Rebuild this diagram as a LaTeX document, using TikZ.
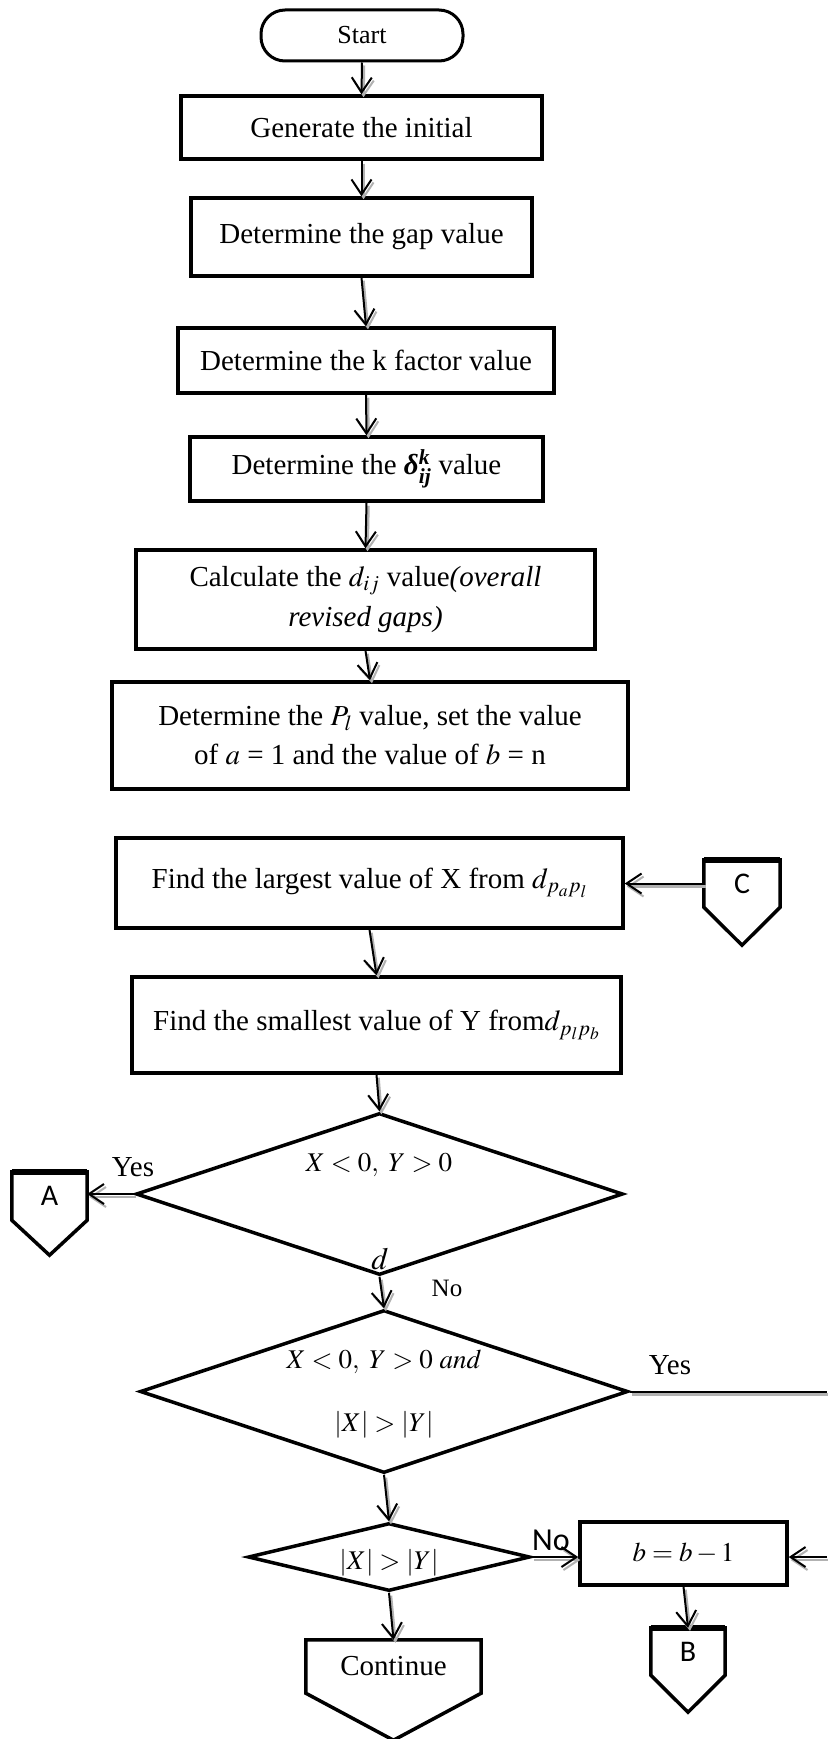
\documentclass[tikz,border=0pt]{standalone}
\usepackage{amsmath,amssymb}
\usepackage{mathptmx}
\usepackage{fontspec}
\setmainfont{Liberation Serif}
\newfontfamily\sansf{Carlito}
\usetikzlibrary{arrows.meta,shapes.geometric,calc}
\newcommand{\bis}[1]{\text{\bfseries\itshape #1}}
\begin{document}
\begin{tikzpicture}[x=1pt,y=-1pt,
  box/.style={draw,line width=3.5pt,inner sep=0pt,align=center,font=\fontsize{29}{40}\selectfont},
  startbox/.style={draw,line width=3pt,rounded corners=24pt,inner sep=0pt,font=\fontsize{26}{30}\selectfont},
  dia/.style={draw,diamond,line width=3.5pt,inner sep=0pt},
  conn/.style={draw=none,inner sep=0pt,font=\sansf\fontsize{30}{32}\selectfont},
  pent/.style={line width=3.5pt,line join=miter},
  lbl/.style={inner sep=0pt,font=\fontsize{29}{32}\selectfont},
  mth/.style={inner sep=0pt,font=\fontsize{27}{30}\selectfont},
  shadowed/.style={preaction={draw=black!30,line width=2.5pt,transform canvas={shift={(2pt,-3pt)}}}},
  arr/.style={line width=2pt,-{Straight Barb[length=15pt,width=20pt,line width=2pt]},shadowed},
  plain/.style={line width=2pt,shadowed}
]
\fill[white] (0,0) rectangle (827,1739);
\useasboundingbox (0,0) rectangle (827,1739);

% main column
\node[startbox,minimum width=202pt,minimum height=51pt] (start) at (362,35.5) {Start};
\node[box,minimum width=361pt,minimum height=63pt] (gen) at (361.5,127.5) {Generate the initial};
\node[box,minimum width=341pt,minimum height=78pt] (gap) at (361.5,237) {Determine the gap value};
\node[box,minimum width=376pt,minimum height=65pt] (kf) at (366,360.5) {Determine the k factor value};
\node[box,minimum width=353pt,minimum height=64pt] (del) at (366.5,469) {Determine the \textbf{\textit{δ}}$^{\bis{k}}_{\bis{ij}}$ value};
\node[box,minimum width=459pt,minimum height=99pt,font=\fontsize{29}{40}\selectfont] (dij) at (365.5,599.5) {Calculate the $d_{ij}$ value\textit{(overall}\\\textit{revised gaps)}};
\node[box,minimum width=516pt,minimum height=107pt,font=\fontsize{29}{39}\selectfont] (pl) at (370,735.5) {Determine the $P_l$ value, set the value\\of $a$ = 1 and the value of $b$ = n};
\node[box,minimum width=507pt,minimum height=90pt] (large) at (369.5,883) {Find the largest value of X from $d_{p_a p_l}$};
\node[box,minimum width=489pt,minimum height=96pt] (small) at (376.5,1025) {Find the smallest value of Y from$d_{p_l p_b}$};

\node[dia,minimum width=487pt,minimum height=162pt] (d1) at (379.5,1194) {};
\node[mth] (t1) at (379,1165) {$X<0,\ Y>0$};
\node[dia,minimum width=488pt,minimum height=163pt] (d2) at (384,1391.5) {};
\node[mth] (t2a) at (384,1362) {$X<0,\ Y>0\ and$};
\node[mth] (t2b) at (384,1425) {$|X|>|Y|$};
\node[dia,minimum width=282pt,minimum height=68pt] (d3) at (389,1557) {};
\node[mth] (t3) at (389,1563) {$|X|>|Y|$};

\node[box,minimum width=207pt,minimum height=63pt,font=\fontsize{27}{30}\selectfont] (bb) at (683.5,1553.5) {$b=b-1$};

% off-page connectors
\node[conn,minimum width=76pt,minimum height=47pt] (C) at (742,883.5) {C};
\draw[pent] (C.north west) -- (C.north east) -- (C.south east) -- ($(C.south)+(0,38)$) -- (C.south west) -- cycle;
\draw[line width=5.5pt] (C.north west) -- (C.north east);
\node[conn,minimum width=75pt,minimum height=48pt] (A) at (49.5,1196) {A};
\draw[pent] (A.north west) -- (A.north east) -- (A.south east) -- ($(A.south)+(0,35)$) -- (A.south west) -- cycle;
\draw[line width=5.5pt] (A.north west) -- (A.north east);
\node[conn,minimum width=74pt,minimum height=47pt] (B) at (688,1651.5) {B};
\draw[pent] (B.north west) -- (B.north east) -- (B.south east) -- ($(B.south)+(0,37)$) -- (B.south west) -- cycle;
\draw[line width=5.5pt] (B.north west) -- (B.north east);
\node[conn,minimum width=175pt,minimum height=53pt,font=\fontsize{29}{32}\selectfont,anchor=center] (cont) at (393.5,1666.5) {\raisebox{-3pt}{Continue}};
\draw[pent] (cont.north west) -- (cont.north east) -- (cont.south east) -- ($(cont.south)+(0,47)$) -- (cont.south west) -- cycle;

% free ends at the right margin
\coordinate (r1) at (827,1391.5);
\coordinate (r2) at (827,1557);

% connectors
\draw[arr] (start.south) -- (gen.north);
\draw[arr] (gen.south) -- (gap.north);
\draw[arr] (gap.south) -- (kf.north);
\draw[arr] (kf.south) -- (del.north);
\draw[arr] (del.south) -- (dij.north);
\draw[arr] (dij.south) -- (pl.north);
\draw[arr] (C.west) -- (C.west -| large.east);
\draw[arr] (large.south) -- (small.north);
\draw[arr] (small.south) -- (d1.north);
\draw[arr] (d1.west) -- (d1.west -| A.east);
\draw[arr] (d1.south) -- (d2.north);
\draw[plain] (d2.east) -- (r1);
\draw[arr] (d2.south) -- (d3.north);
\draw[arr] (d3.east) -- (d3.east -| bb.west);
\draw[arr] (r2) -- (r2 -| bb.east);
\draw[arr] (bb.south) -- (B.north);
\draw[arr] (d3.south) -- (cont.north);

% labels
\node[lbl] (yes1) at (133,1167) {Yes};
\node[lbl,font=\fontsize{31}{32}\selectfont] (dl) at (380,1259) {$d$};
\node[lbl,font=\fontsize{25}{28}\selectfont] (no1) at (447,1288) {No};
\node[lbl] (yes2) at (670,1365) {Yes};
\node[lbl,font=\sansf\fontsize{32}{34}\selectfont] (no2) at (551,1540) {No};
\end{tikzpicture}
\end{document}
